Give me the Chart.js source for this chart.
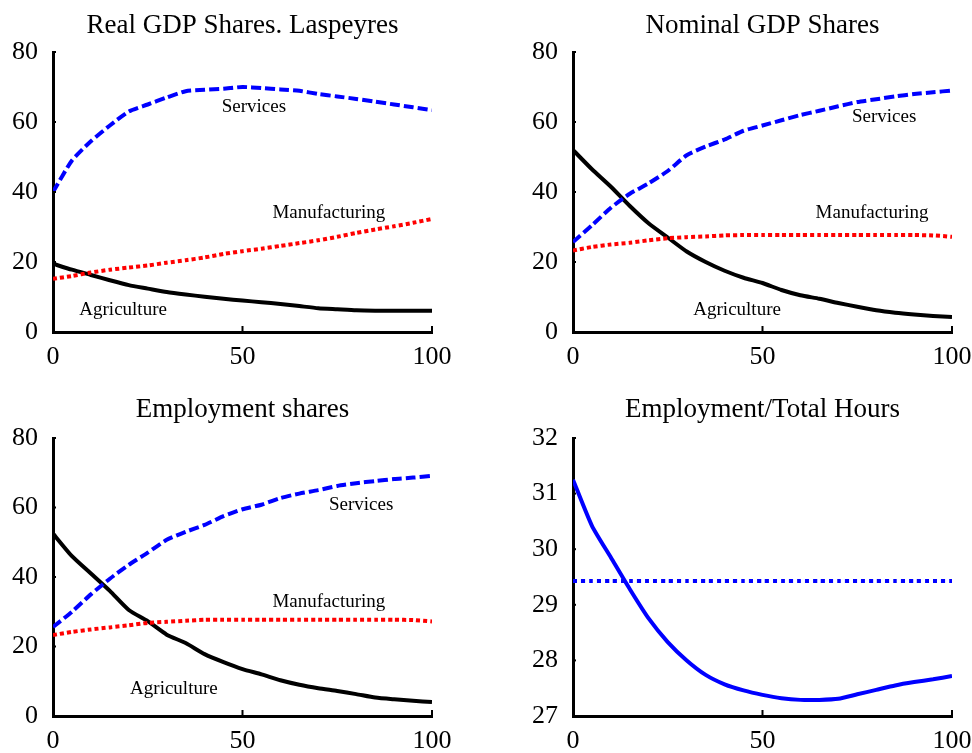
<!DOCTYPE html>
<html>
<head>
<meta charset="utf-8">
<script src="https://cdn.jsdelivr.net/npm/chart.js@4.4.1/dist/chart.umd.min.js"></script>
<style>
  body { margin: 0; background: #fff; }
  .panel { position: absolute; }
</style>
</head>
<body>
<div class="panel" style="left:0;top:0"><canvas id="realGdp" width="486" height="376"></canvas></div>
<div class="panel" style="left:486px;top:0"><canvas id="nominalGdp" width="486" height="376"></canvas></div>
<div class="panel" style="left:0;top:376px"><canvas id="employment" width="486" height="377"></canvas></div>
<div class="panel" style="left:486px;top:376px"><canvas id="hours" width="486" height="377"></canvas></div>
<script>
const periods = [0, 5, 10, 15, 20, 25, 30, 35, 40, 45, 50, 55, 60, 65, 70, 75, 80, 85, 90, 95, 100];

// Real GDP shares (Laspeyres)
const realAgri = [19.5, 17.8, 16.3, 14.8, 13.4, 12.4, 11.4, 10.7, 10.1, 9.5, 9.0, 8.5, 8.0, 7.4, 6.8, 6.5, 6.2, 6.1, 6.1, 6.1, 6.1];
const realManu = [15.2, 16.0, 17.0, 17.8, 18.4, 19.0, 19.8, 20.5, 21.3, 22.3, 23.1, 23.8, 24.6, 25.4, 26.2, 27.2, 28.3, 29.3, 30.2, 31.2, 32.3];
const realServ = [40.0, 49.0, 54.5, 59.0, 63.0, 65.0, 67.0, 68.8, 69.2, 69.5, 70.0, 69.7, 69.3, 68.9, 68.0, 67.3, 66.6, 65.8, 65.0, 64.2, 63.4];

// Nominal GDP shares
const nomAgri = [52.0, 46.5, 41.5, 36.0, 31.0, 27.0, 23.0, 20.0, 17.5, 15.5, 14.0, 12.0, 10.5, 9.5, 8.3, 7.2, 6.2, 5.5, 5.0, 4.6, 4.3];
const nomManu = [23.3, 24.3, 25.0, 25.5, 26.2, 26.8, 27.1, 27.3, 27.6, 27.7, 27.7, 27.7, 27.7, 27.7, 27.7, 27.7, 27.7, 27.7, 27.7, 27.6, 27.2];
const nomServ = [25.7, 30.5, 35.5, 39.5, 42.5, 46.0, 50.5, 53.0, 55.0, 57.5, 59.0, 60.5, 62.0, 63.2, 64.5, 65.7, 66.5, 67.3, 68.0, 68.5, 69.0];

// Employment shares
const empAgri = [52.5, 46.0, 41.0, 36.0, 30.5, 27.3, 23.4, 21.0, 17.8, 15.5, 13.5, 12.0, 10.3, 9.0, 8.0, 7.2, 6.3, 5.3, 4.8, 4.4, 4.0];
const empManu = [23.3, 24.2, 24.9, 25.5, 26.1, 26.8, 27.1, 27.4, 27.7, 27.7, 27.7, 27.7, 27.7, 27.7, 27.7, 27.7, 27.7, 27.7, 27.7, 27.6, 27.2];
const empServ = [25.6, 30.0, 35.0, 39.5, 43.5, 47.0, 50.7, 53.0, 55.0, 57.5, 59.5, 60.8, 62.7, 64.0, 65.0, 66.2, 67.0, 67.6, 68.2, 68.6, 69.1];

// Employment / total hours
const hoursModel = [31.25, 30.42, 29.85, 29.28, 28.75, 28.33, 28.0, 27.74, 27.57, 27.46, 27.38, 27.32, 27.29, 27.29, 27.31, 27.39, 27.47, 27.55, 27.61, 27.66, 27.72];
const hoursData = [29.43, 29.43, 29.43, 29.43, 29.43, 29.43, 29.43, 29.43, 29.43, 29.43, 29.43, 29.43, 29.43, 29.43, 29.43, 29.43, 29.43, 29.43, 29.43, 29.43, 29.43];

const shareTicks = [0, 20, 40, 60, 80];
const hourTicks = [27, 28, 29, 30, 31, 32];
const xTicks = [0, 50, 100];

// text labels next to the curves, in data units
const realLabels = [["Services", 53, 64.3], ["Manufacturing", 72.8, 33.9], ["Agriculture", 18.5, 6.3]];
const nomLabels = [["Services", 82.1, 61.5], ["Manufacturing", 78.9, 33.9], ["Agriculture", 43.3, 6.3]];
const empLabels = [["Services", 81.3, 60.8], ["Manufacturing", 72.8, 32.7], ["Agriculture", 31.9, 7.7]];

const FONT = "'Liberation Serif', 'Times New Roman', serif";

const pts = arr => periods.map((p, i) => ({ x: p, y: arr[i] }));

const agriStyle = { borderColor: '#000000', borderWidth: 4 };
const manuStyle = { borderColor: '#ff0000', borderWidth: 4, borderDash: [4, 3] };
const servStyle = { borderColor: '#0000ff', borderWidth: 4, borderDash: [10, 4] };

// short inward tick marks + curve labels
const innerTicks = {
  id: 'innerTicks',
  afterDraw(chart) {
    const ctx = chart.ctx;
    const xs = chart.scales.x, ys = chart.scales.y;
    const a = chart.chartArea;
    ctx.save();
    ctx.strokeStyle = '#000';
    ctx.lineWidth = 2;
    xs.ticks.forEach(t => {
      const px = xs.getPixelForValue(t.value);
      ctx.beginPath(); ctx.moveTo(px, a.bottom); ctx.lineTo(px, a.bottom - 6); ctx.stroke();
    });
    ys.ticks.forEach(t => {
      const py = ys.getPixelForValue(t.value);
      ctx.beginPath(); ctx.moveTo(a.left, py); ctx.lineTo(a.left + 3, py); ctx.stroke();
    });
    const labels = chart.options.plugins.innerTicks.labels || [];
    ctx.fillStyle = '#000';
    ctx.font = '19px ' + FONT;
    ctx.textAlign = 'center';
    ctx.textBaseline = 'middle';
    labels.forEach(l => ctx.fillText(l[0], xs.getPixelForValue(l[1]), ys.getPixelForValue(l[2])));
    ctx.restore();
  }
};

function makePanel(id, title, datasets, yTicks, labels, opts) {
  const yMin = yTicks[0], yMax = yTicks[yTicks.length - 1];
  new Chart(document.getElementById(id), {
    type: 'line',
    data: { datasets },
    options: {
      responsive: false,
      animation: false,
      devicePixelRatio: 1,
      layout: { padding: { left: 0, right: opts.right, top: 0, bottom: 0 } },
      elements: { point: { radius: 0 }, line: { tension: 0.2, borderCapStyle: 'butt', fill: false } },
      plugins: {
        legend: { display: false },
        tooltip: { enabled: false },
        title: {
          display: true, text: title, color: '#000', fullSize: false,
          font: { family: FONT, size: 27, weight: 'normal', lineHeight: 1 },
          padding: { top: opts.titleTop, bottom: opts.titleBottom }
        },
        innerTicks: { labels }
      },
      scales: {
        x: {
          type: 'linear', min: 0, max: 100,
          afterBuildTicks: s => { s.ticks = xTicks.map(v => ({ value: v })); },
          afterFit: s => { s.height = opts.xHeight; s.paddingLeft = 0; s.paddingRight = 0; },
          grid: { display: true, drawOnChartArea: false, drawTicks: false },
          border: { color: '#000', width: 3 },
          ticks: { color: '#000', padding: 10, maxRotation: 0, font: { family: FONT, size: 26 } }
        },
        y: {
          min: yMin, max: yMax,
          afterBuildTicks: s => { s.ticks = yTicks.map(v => ({ value: v })); },
          afterFit: s => { s.width = opts.yWidth; },
          grid: { display: true, drawOnChartArea: false, drawTicks: false },
          border: { color: '#000', width: 3 },
          ticks: { color: '#000', padding: 15, font: { family: FONT, size: 26 } }
        }
      }
    },
    plugins: [innerTicks]
  });
}

makePanel('realGdp', 'Real GDP Shares. Laspeyres', [
  { data: pts(realServ), ...servStyle },
  { data: pts(realManu), ...manuStyle },
  { data: pts(realAgri), ...agriStyle }
], shareTicks, realLabels, { right: 54, yWidth: 53, xHeight: 44, titleTop: 12, titleBottom: 13 });

makePanel('nominalGdp', 'Nominal GDP Shares', [
  { data: pts(nomServ), ...servStyle },
  { data: pts(nomManu), ...manuStyle },
  { data: pts(nomAgri), ...agriStyle }
], shareTicks, nomLabels, { right: 20, yWidth: 87, xHeight: 44, titleTop: 12, titleBottom: 13 });

makePanel('employment', 'Employment shares', [
  { data: pts(empServ), ...servStyle },
  { data: pts(empManu), ...manuStyle },
  { data: pts(empAgri), ...agriStyle }
], shareTicks, empLabels, { right: 54, yWidth: 53, xHeight: 37, titleTop: 20, titleBottom: 15 });

makePanel('hours', 'Employment/Total Hours', [
  { data: pts(hoursData), borderColor: '#0000ff', borderWidth: 4, borderDash: [4, 4] },
  { data: pts(hoursModel), borderColor: '#0000ff', borderWidth: 4 }
], hourTicks, [], { right: 20, yWidth: 87, xHeight: 37, titleTop: 20, titleBottom: 15 });
</script>
</body>
</html>
